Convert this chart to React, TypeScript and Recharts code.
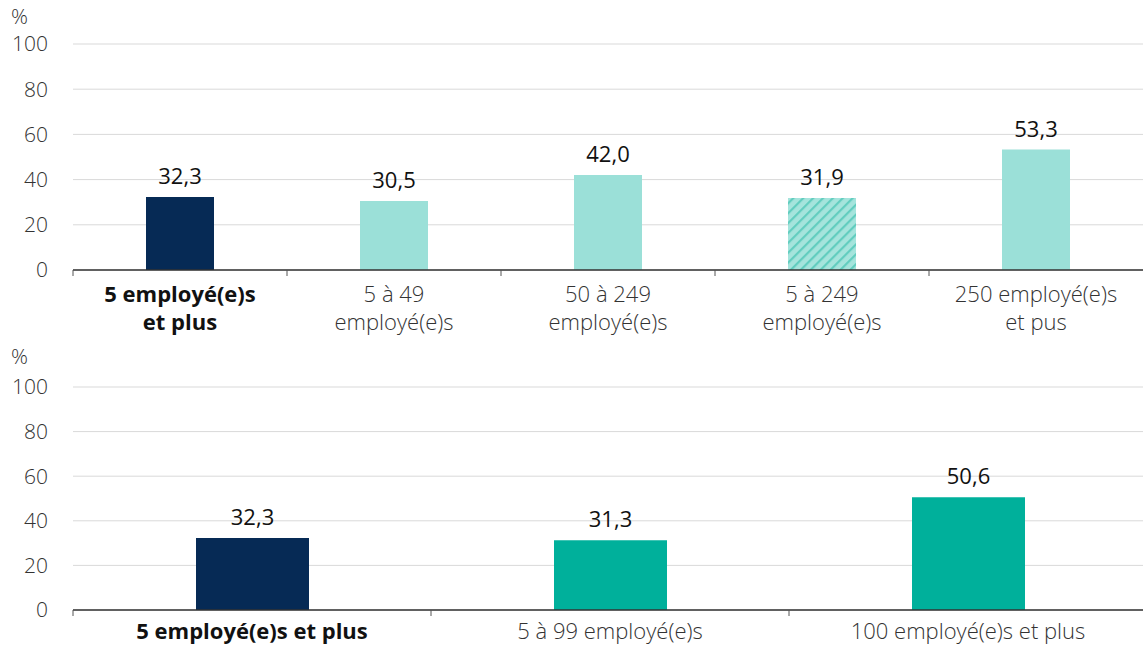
import { BarChart, Bar, XAxis, YAxis, CartesianGrid, Cell, LabelList } from "recharts";

// Taille d'entreprise — part des entreprises (%)
const sizeCategories = [
  "5 employé(e)s\net plus",
  "5 à 49\nemployé(e)s",
  "50 à 249\nemployé(e)s",
  "5 à 249\nemployé(e)s",
  "250 employé(e)s\net pus",
];
const sizeValues = [32.3, 30.5, 42.0, 31.9, 53.3];
const sizeFills = ["#062a55", "#9be0d8", "#9be0d8", "url(#hatch)", "#9be0d8"];

const splitCategories = [
  "5 employé(e)s et plus",
  "5 à 99 employé(e)s",
  "100 employé(e)s et plus",
];
const splitValues = [32.3, 31.3, 50.6];
const splitFills = ["#062a55", "#00b09b", "#00b09b"];

const yTicks = [0, 20, 40, 60, 80, 100];

const FONT = "'Open Sans', 'Noto Sans', sans-serif";
const TICK_COLOR = "#333333";
const Y_AXIS_WIDTH = 73;

const fmt = (v: number) => v.toFixed(1).replace(".", ",");

// category label, plus a small separator tick at the left edge of its band
function CategoryTick(props: any) {
  const { x, y, payload, index, firstBaseline, band } = props;
  const lines = String(payload.value).split("\n");
  const bold = index === 0;
  const edge = x - band / 2;
  return (
    <g>
      <line x1={edge} x2={edge} y1={y} y2={y + 6} stroke="#555555" strokeWidth={1} />
      <text
        x={x}
        y={y + firstBaseline}
        textAnchor="middle"
        fontFamily={FONT}
        fontSize={22}
        fontWeight={bold ? 700 : 300}
        fill={bold ? "#111111" : TICK_COLOR}
      >
        {lines.map((line, i) => (
          <tspan key={i} x={x} dy={i === 0 ? 0 : 28}>
            {line}
          </tspan>
        ))}
      </text>
    </g>
  );
}

function ValueLabel(props: any) {
  const { x, y, width, value } = props;
  return (
    <text
      x={x + width / 2}
      y={y - 13}
      textAnchor="middle"
      fontFamily={FONT}
      fontSize={22}
      fill="#111111"
    >
      {fmt(Number(value))}
    </text>
  );
}

function Panel({
  categories,
  values,
  fills,
  width,
  height,
  top,
  axisHeight,
  barSize,
  firstBaseline,
}: {
  categories: string[];
  values: number[];
  fills: string[];
  width: number;
  height: number;
  top: number;
  axisHeight: number;
  barSize: number;
  firstBaseline: number;
}) {
  const data = categories.map((name, i) => ({ name, value: values[i] }));
  const band = (width - Y_AXIS_WIDTH) / categories.length;
  return (
    <div style={{ position: "relative", width, height }}>
      <span
        style={{
          position: "absolute",
          left: 11,
          top: 3,
          fontFamily: FONT,
          fontSize: 21,
          fontWeight: 300,
          color: TICK_COLOR,
          lineHeight: "26px",
        }}
      >
        %
      </span>
      <BarChart
        width={width}
        height={height}
        data={data}
        margin={{ top, right: 0, left: 0, bottom: 0 }}
        barCategoryGap={0}
      >
        <CartesianGrid vertical={false} stroke="#d9d9d9" strokeWidth={1} />
        <XAxis
          dataKey="name"
          interval={0}
          axisLine={{ stroke: "#333333", strokeWidth: 1.5 }}
          tickLine={false}
          tickSize={0}
          tickMargin={0}
          height={axisHeight}
          tick={<CategoryTick firstBaseline={firstBaseline} band={band} />}
        />
        <YAxis
          domain={[0, 100]}
          ticks={yTicks}
          width={Y_AXIS_WIDTH}
          axisLine={false}
          tickLine={false}
          tickSize={0}
          tickMargin={25}
          tick={{ fontFamily: FONT, fontSize: 21, fontWeight: 300, fill: TICK_COLOR }}
        />
        <Bar dataKey="value" barSize={barSize} isAnimationActive={false}>
          {data.map((_, i) => (
            <Cell key={i} fill={fills[i]} />
          ))}
          <LabelList dataKey="value" content={<ValueLabel />} />
        </Bar>
      </BarChart>
    </div>
  );
}

export default function App() {
  return (
    <div
      style={{
        position: "absolute",
        left: 0,
        top: 0,
        width: 1143,
        height: 645,
        overflow: "hidden",
        background: "#ffffff",
      }}
    >
      <svg width={0} height={0} style={{ position: "absolute" }}>
        <defs>
          <pattern
            id="hatch"
            patternUnits="userSpaceOnUse"
            width={7}
            height={7}
            patternTransform="rotate(45)"
          >
            <rect width={7} height={7} fill="#a5e4dc" />
            <rect x={0} y={0} width={2.2} height={7} fill="#62cdbf" />
          </pattern>
        </defs>
      </svg>
      <Panel
        categories={sizeCategories}
        values={sizeValues}
        fills={sizeFills}
        width={1143}
        height={340}
        top={44}
        axisHeight={70}
        barSize={68}
        firstBaseline={32}
      />
      <Panel
        categories={splitCategories}
        values={splitValues}
        fills={splitFills}
        width={1147}
        height={305}
        top={47}
        axisHeight={35}
        barSize={113}
        firstBaseline={29}
      />
    </div>
  );
}
